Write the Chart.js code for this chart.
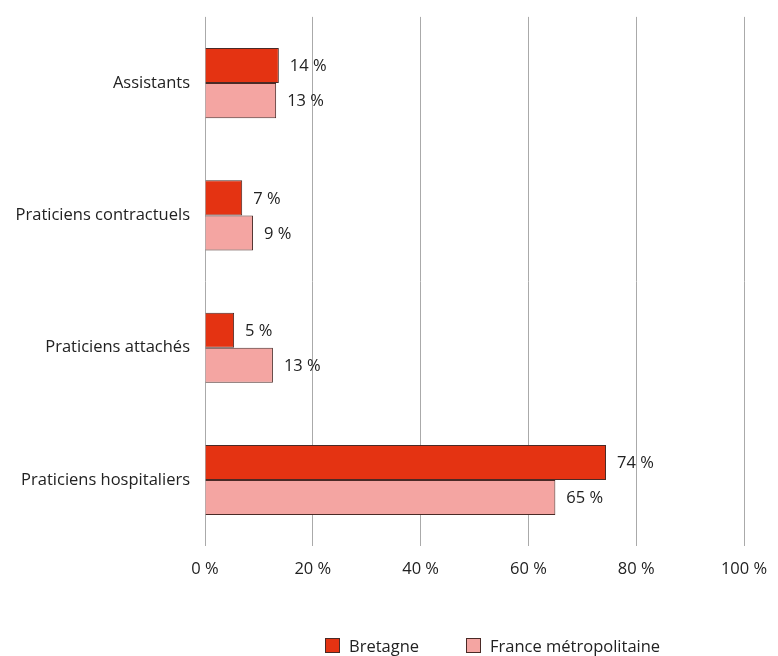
<!DOCTYPE html>
<html>
<head>
<meta charset="utf-8">
<script src="https://cdn.jsdelivr.net/npm/chart.js@4"></script>
<style>
    html, body { margin: 0; padding: 0; background: #fff; }
    #wrap { position: relative; width: 778px; height: 656px; }
    #legend { position: absolute; left: 325px; top: 634px; display: flex; font: 16.5px "Open Sans", sans-serif; color: #222; }
    #legend span.item { display: flex; align-items: center; margin-right: 47px; }
    #legend span.box { width: 15px; height: 15px; box-sizing: border-box; border: 1px solid #4a2a26; margin-right: 9px; }
</style>
</head>
<body>
<div id="wrap">
    <canvas id="barChart" width="778" height="656"></canvas>
    <div id="legend"></div>
</div>
<script>
const categories = ['Assistants', 'Praticiens contractuels', 'Praticiens attachés', 'Praticiens hospitaliers'];
const bretagne = [13.7, 6.9, 5.4, 74.4];
const france = [13.2, 8.9, 12.6, 65.0];
const bretagneLabels = [14, 7, 5, 74];
const franceLabels = [13, 9, 13, 65];
const xTicks = [0, 20, 40, 60, 80, 100];

const font = { family: '"Open Sans", sans-serif', size: 16.5 };

// writes the "xx %" next to each bar
const valueLabels = {
    id: 'valueLabels',
    afterDatasetsDraw(chart) {
        const ctx = chart.ctx;
        const texts = [bretagneLabels, franceLabels];
        ctx.save();
        ctx.font = '16.5px "Open Sans", sans-serif';
        ctx.fillStyle = '#222';
        ctx.textBaseline = 'middle';
        chart.data.datasets.forEach((ds, i) => {
            chart.getDatasetMeta(i).data.forEach((bar, j) => {
                ctx.fillText(texts[i][j] + ' %', bar.x + 11, bar.y + 1);
            });
        });
        ctx.restore();
    }
};

const chart = new Chart(document.getElementById('barChart'), {
    type: 'bar',
    data: {
        labels: categories,
        datasets: [{
            label: 'Bretagne',
            data: bretagne,
            backgroundColor: '#e43312',
            borderColor: '#4a2a26',
            borderWidth: 1
        }, {
            label: 'France métropolitaine',
            data: france,
            backgroundColor: '#f4a5a2',
            borderColor: '#4a2a26',
            borderWidth: 1
        }]
    },
    options: {
        indexAxis: 'y',
        responsive: false,
        animation: false,
        categoryPercentage: 0.53,
        barPercentage: 1,
        layout: { padding: { left: 0, right: 34, top: 0, bottom: 64 } },
        plugins: {
            legend: { display: false },
            tooltip: { enabled: false }
        },
        scales: {
            x: {
                min: 0,
                max: 100,
                afterBuildTicks: (s) => { s.ticks = xTicks.map(v => ({ value: v })); },
                afterFit: (s) => { s.paddingRight = 0; },
                ticks: { color: '#222', font: font, padding: 13, callback: v => v + ' %' },
                grid: { color: '#aaa', drawTicks: false },
                border: { display: false }
            },
            y: {
                afterFit: (s) => { s.width = 205; },
                ticks: { color: '#222', font: font, padding: 7 },
                grid: { display: false },
                border: { display: false }
            }
        }
    },
    plugins: [valueLabels]
});

// legend built from the datasets
const legend = document.getElementById('legend');
chart.data.datasets.forEach(ds => {
    const item = document.createElement('span');
    item.className = 'item';
    item.innerHTML = '<span class="box" style="background:' + ds.backgroundColor + '"></span>' + ds.label;
    legend.appendChild(item);
});
</script>
</body>
</html>
